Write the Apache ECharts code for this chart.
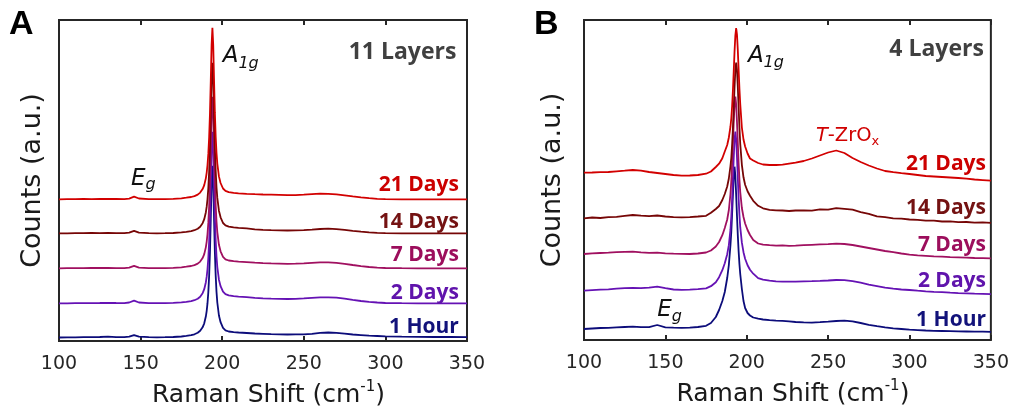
<!DOCTYPE html>
<html>
<head>
<meta charset="utf-8">
<script src="https://cdn.jsdelivr.net/npm/echarts@6/dist/echarts.min.js"></script>
<style>
  html, body { margin: 0; padding: 0; background: #ffffff; }
  #chart { width: 1012px; height: 413px; }
</style>
</head>
<body>
<div id="chart"></div>
<script>
// ---- Raman spectra of ZrS2-type flakes after ageing (counts in a.u.) ----
const ageLabels = ['1 Hour', '2 Days', '7 Days', '14 Days', '21 Days'];
const panelTitles = ['11 Layers', '4 Layers'];
const xTickValues = [100, 150, 200, 250, 300, 350];

// Raman shift sampling (cm-1), panel A (11 layers)
const xA = [100,105,110,115,120,125,130,135,140,
  143,146,149,
  155,160,165,170,175,
  178,181,183,185,186.5,188,189,190,
  190.5,191,191.5,192,192.5,193,193.5,194,194.5,195,195.5,196,196.5,197,
  198,199,200.5,202,204,207,210,
  215,220,225,230,235,240,245,250,255,260,265,270,275,280,285,290,295,300,
  310,320,330,340,350];

// Panel A intensities (before vertical stacking)
const aHour1 = [0,0.1,0.2,0.3,0.4,0.5,0.9,0.4,0.3,
  0.8,2.4,0.8,
  0.3,0.2,0.3,0.5,1.0,
  1.6,2.3,3.2,4.7,6.7,10.2,14.2,21.2,
  26.7,34.3,45.4,61.7,85.6,118.5,154.1,171.8,154.2,118.8,85.9,62.2,45.9,35,
  22,15.3,9.6,7.2,6.0,5.4,5.0,
  4.5,4.0,3.7,3.4,3.2,3.0,3.1,3.2,3.6,4.6,5.0,4.6,3.8,3.0,2.4,1.8,1.5,1.2,
  0.8,0.6,0.5,0.5,0.4];
const aDay2 = [0,0,0.1,0.2,0.2,0.3,0.5,0.3,0.2,
  0.8,2.6,0.8,
  0.2,0.1,0.2,0.4,0.9,
  1.5,2.2,3.1,4.6,6.6,10.1,14.1,21.1,
  26.6,34.2,45.3,61.6,85.5,118.4,153.9,171.6,154.4,119.3,86.7,63.1,47.1,36.3,
  23.6,17.1,11.6,9.1,7.9,7.2,6.7,
  6.1,5.5,5.0,4.7,4.5,4.3,4.5,4.9,5.4,5.9,6.0,5.6,4.6,3.4,2.3,1.4,0.8,0.3,
  0.1,0,0,0,0];
const aDay7 = [0,0.1,0.1,0.2,0.3,0.3,0.4,0.2,0.2,
  0.7,2.5,0.7,
  0.2,0.1,0.2,0.5,1.0,
  1.6,2.3,3.2,4.7,6.7,10.2,14.2,21.2,
  26.7,34.3,45.4,61.7,85.6,118.5,154,171.6,154.4,119.2,86.6,63,47,36.2,
  23.5,17,11.5,9,7.8,7.1,6.6,
  6.1,5.6,5.2,4.9,4.7,4.5,4.6,4.9,5.4,5.9,6.0,5.5,4.5,3.3,2.2,1.3,0.7,0.3,
  0.1,0,0,0,0];
const aDay14 = [0,0,0.1,0.2,0.3,0.2,0.3,0.2,0.1,
  0.6,2.4,0.6,
  0.1,0,0.1,0.3,0.9,
  1.5,2.2,3.1,4.6,6.6,10.1,14.1,21.1,
  26.6,34.2,45.2,61.4,85.2,118,153.4,170.6,153.6,118.6,86,62.4,46.3,35.4,
  22.6,16,10.3,7.9,6.6,5.9,5.5,
  5.0,4.0,3.5,3.2,3.0,2.8,2.9,3.2,3.7,4.3,4.6,4.2,3.4,2.5,1.7,1.0,0.5,0.2,
  0,0,0,0,0];
const aDay21 = [0,0.1,0.2,0.3,0.2,0.3,0.4,0.3,0.2,
  0.7,2.6,0.8,
  0.2,0.1,0.2,0.4,1.0,
  1.6,2.3,3.2,4.7,6.7,10.2,14.2,21.2,
  26.7,34.3,45.4,61.7,85.6,118.5,154,171.5,154.3,119.1,86.4,62.7,46.6,35.7,
  22.9,16.3,10.8,8.4,7.2,6.4,6.0,
  5.5,5.1,4.8,4.6,4.4,4.1,4.2,4.6,5.1,5.6,5.5,5.0,4.0,2.9,1.9,1.1,0.5,0.1,
  0,0,0,0,0];
// vertical stacking offsets, panel A (1 Hour ... 21 Days)
const offsetsA = [3.5, 37.7, 72.7, 107.7, 141.7];

// Raman shift sampling (cm-1), panel B (4 layers)
const xB = [100,105,110,115,120,125,130,135,140,145,150,155,160,165,170,175,
  178,181,183,185,186.5,188,189,190,
  190.5,191,191.5,192,192.5,193,193.5,194,194.5,195,195.5,196,
  197,198,199,200.5,202,204,207,210,
  214,218,222,226,230,
  235,240,245,250,255,260,265,270,275,280,285,290,295,300,305,310,315,320,325,330,335,340,345,350];

const bHour1 = [0,0.5,1,1.2,1.6,2,2.3,1.8,1.8,4,1.6,1.3,1.2,1.3,2,3.2,
  6,12,19,28,37,51,64,84,
  97,115,134,152,162.3,153,134,113,94,78,65,55,
  40,28,21,16,13.5,11.5,10.3,9.5,
  8.8,8.4,8.2,7.6,7,
  6.6,6.4,6.8,7.3,8,8.3,7.6,6,4.2,2.8,1.6,0.7,0,-0.7,-1.1,-1.5,-1.8,-2,-2.2,-2.4,-2.5,-2.6,-2.7,-2.8];
const bDay2 = [0,0.5,1,1.4,2,2.6,2.8,2.5,3,4,2.5,1.2,0.8,1,1.6,2.4,
  4.5,8.5,13.5,20.5,27.5,36.5,45.5,61,
  74,91,112,133,151,159,151,133.5,113,92.5,76,63.5,
  48,38.5,32,25.5,21,17,12.5,11,
  10,9.3,9,9,9,
  9.3,9.5,9.8,10.2,10.7,10.5,9.5,8,6,4.5,3,2,1.2,0.7,0,-0.6,-1.1,-1.5,-2,-2.4,-2.7,-3,-3.2,-3.4];
const bDay7 = [0,0.6,1,1.3,1.8,2.2,2.3,1.6,1.2,1.4,0.7,0.3,0.2,0,0.5,1.5,
  3.5,7.5,12,18.8,26,34.5,44,60,
  73,90,111,132,149.5,157.3,149.5,132,111.5,91,74.5,62,
  46,37,30.5,24,19,14,10.5,9.3,
  8.8,8.4,8.6,8.2,8.3,
  8.8,9.2,9.6,9.8,10.3,10,9,7.5,6,4.5,3,1.8,0.5,-0.6,-1.3,-1.8,-2.3,-2.7,-3.1,-3.4,-3.7,-4,-4.2,-4.4];
const bDay14 = [0,0.8,0.3,1.2,1.5,2.5,3.3,2.6,2.2,2.8,1.8,1.2,1.0,1.2,1.8,2.5,
  5.5,9.3,12.3,18.3,24.3,31.8,39.8,52.3,
  60.3,73.3,90.3,110.3,131.3,148.3,155.6,148.5,131.5,111,91,74.5,
  53.5,41,33.5,27,22.5,17.5,12.5,10,
  8.5,8,7.8,7.3,7.8,
  7.9,7.6,8.9,8.7,10.2,9.4,8.6,6.2,4.5,2.0,1.1,0.0,-0.3,-1.2,-1.5,-2.4,-2.4,-3.2,-3.0,-3.8,-3.7,-4.3,-4.1,-4.6];
const bDay21 = [-0.2,0,0.3,0.5,1.2,1.8,2.5,1.8,0.5,-0.5,-1.5,-2.5,-3.2,-3,-2.5,-1.2,
  1,5.5,8.8,14.2,21,27.5,35,46,
  54,66,82,101,121,137,144.5,138,122.5,103,84,68.5,
  45,33,26,19,14,12,9.5,8,
  7.5,7.5,7.8,8.8,9.8,
  11.5,14,17,20,22,19.5,14.5,10.5,7,4,1.5,0.3,-0.7,-1.5,-2.5,-3.5,-4,-4.5,-5,-5.5,-6.2,-7,-7.6,-8.2];
// vertical stacking offsets, panel B (1 Hour ... 21 Days)
const offsetsB = [11, 49.3, 86, 121.7, 167.5];

// ---- styling ----
const lineColors = ['#0c0c7a', '#6512b4', '#a01060', '#760606', '#d20000'];
const textColors = ['#12127a', '#6014ac', '#9c0e5c', '#741212', '#cc0000'];
const axisColor = '#262626';
const FONT = 'DejaVu Sans';

const spectraA = [aHour1, aDay2, aDay7, aDay14, aDay21];
const spectraB = [bHour1, bDay2, bDay7, bDay14, bDay21];

function stacked(xs, ys, off) {
  return xs.map((x, i) => [x, ys[i] + off]);
}

function xAxes(gridIndex) {
  const base = {
    gridIndex, type: 'value', min: 100, max: 350, interval: 50,
    axisLine: { show: false }, splitLine: { show: false },
    axisTick: { show: true, inside: true, length: 5, lineStyle: { color: axisColor, width: 2 } }
  };
  return [
    Object.assign({}, base, {
      position: 'bottom',
      axisLabel: { show: true, margin: 14, fontSize: 19, fontFamily: FONT, color: axisColor },
      name: '{a|Raman Shift (cm}{s|-1}{a|)}',
      nameLocation: 'middle', nameGap: 39,
      nameTextStyle: {
        padding: [0, 0, 0, 11],
        rich: {
          a: { fontSize: 25, lineHeight: 30, fontFamily: FONT, color: '#1a1a1a' },
          s: { fontSize: 15, lineHeight: 15, verticalAlign: 'top', fontFamily: FONT, color: '#1a1a1a' }
        }
      }
    }),
    Object.assign({}, base, { position: 'top', axisLabel: { show: false } })
  ];
}

function yAxis(gridIndex, max, gap) {
  return {
    gridIndex, type: 'value', min: 0, max,
    axisLine: { show: false }, axisTick: { show: false },
    axisLabel: { show: false }, splitLine: { show: false },
    name: 'Counts (a.u.)', nameLocation: 'middle', nameRotate: 90, nameGap: gap,
    nameTextStyle: { fontSize: 27, fontFamily: FONT, color: '#1a1a1a' }
  };
}

const series = [];
spectraA.forEach((ys, i) => series.push({
  type: 'line', xAxisIndex: 0, yAxisIndex: 0, name: ageLabels[i] + ' A',
  data: stacked(xA, ys, offsetsA[i]), showSymbol: false, symbol: 'none',
  lineStyle: { color: lineColors[i], width: 1.8 }, z: 2 + i, silent: true
}));
spectraB.forEach((ys, i) => series.push({
  type: 'line', xAxisIndex: 2, yAxisIndex: 1, name: ageLabels[i] + ' B',
  data: stacked(xB, ys, offsetsB[i]), showSymbol: false, symbol: 'none',
  lineStyle: { color: lineColors[i], width: 1.8 }, z: 2 + i, silent: true
}));

const chart = echarts.init(document.getElementById('chart'));
chart.setOption({
  animation: false,
  backgroundColor: '#ffffff',
  grid: [
    { left: 59, top: 20, width: 408, height: 321, show: true, borderColor: axisColor, borderWidth: 2, backgroundColor: 'transparent' },
    { left: 584, top: 20, width: 407, height: 320, show: true, borderColor: axisColor, borderWidth: 2, backgroundColor: 'transparent' }
  ],
  xAxis: xAxes(0).concat(xAxes(1)),
  yAxis: [yAxis(0, 321, 13), yAxis(1, 320, 18)],
  series
});

// ---- annotations ----
function toPx(panel, x, y) {
  return chart.convertToPixel({ xAxisIndex: panel === 0 ? 0 : 2, yAxisIndex: panel }, [x, y]);
}
// plain text placed by its baseline
function baselineText(str, x, baseline, size, family, weight, color, align, style) {
  return {
    type: 'text', x, y: baseline - 0.3 * size, z: 50, silent: true,
    style: {
      text: str, fill: color, align, verticalAlign: 'middle',
      font: (style || 'normal') + ' ' + (weight || 'normal') + ' ' + size + 'px "' + family + '"'
    }
  };
}
// main glyph with a lowered subscript, placed by the main baseline
function subText(main, sub, x, baseline, size, subSize, lineH, color) {
  return {
    type: 'text', x, y: baseline - (lineH / 2 + 0.3 * size), z: 50, silent: true,
    style: {
      text: '{m|' + main + '}{s|' + sub + '}', align: 'left', verticalAlign: 'top',
      rich: {
        m: { fontSize: size, lineHeight: lineH, fontStyle: 'italic', fontFamily: FONT, fill: color },
        s: { fontSize: subSize, lineHeight: subSize, fontStyle: 'italic', verticalAlign: 'bottom', fontFamily: FONT, fill: color }
      }
    }
  };
}

const graphics = [];
// panel letters
graphics.push(baselineText('A', 9, 35, 34, 'Liberation Sans', 'bold', '#000000', 'left'));
graphics.push(baselineText('B', 534, 35, 34, 'Liberation Sans', 'bold', '#000000', 'left'));

// layer counts
let p = toPx(0, 343.5, 281.7);
graphics.push(baselineText(panelTitles[0], p[0], p[1], 23, 'Open Sans', 'bold', '#404040', 'right'));
p = toPx(1, 345.7, 283.3);
graphics.push(baselineText(panelTitles[1], p[0], p[1], 23, 'Open Sans', 'bold', '#404040', 'right'));

// age labels next to each trace
const liftA = [4.2, 4.0, 6.6, 5.0, 7.6];
const liftB = [2.3, 3.4, 2.3, 4.0, 2.5];
ageLabels.forEach((lab, i) => {
  let q = toPx(0, 345, offsetsA[i] + liftA[i]);
  graphics.push(baselineText(lab, q[0], q[1], 21, 'Open Sans', 'bold', textColors[i], 'right'));
  q = toPx(1, 347, offsetsB[i] + liftB[i]);
  graphics.push(baselineText(lab, q[0], q[1], 21, 'Open Sans', 'bold', textColors[i], 'right'));
});

// phonon modes
p = toPx(0, 200.3, 277.7);
graphics.push(subText('A', '1g', p[0], p[1], 23, 16, 30, '#111111'));
p = toPx(1, 200.7, 277.3);
graphics.push(subText('A', '1g', p[0], p[1], 23, 16, 30, '#111111'));
p = toPx(0, 144.1, 155.5);
graphics.push(subText('E', 'g', p[0], p[1], 23, 16, 29, '#111111'));
p = toPx(1, 145, 22.7);
graphics.push(subText('E', 'g', p[0], p[1], 23, 16, 29, '#111111'));

// oxide band on the 21-day trace
p = toPx(1, 242.5, 198.3);
graphics.push({
  type: 'text', x: p[0], y: p[1] - (12.5 + 0.3 * 19.5), z: 50, silent: true,
  style: {
    text: '{i|T}{n|-ZrO}{s|x}', align: 'left', verticalAlign: 'top',
    rich: {
      i: { fontSize: 19.5, lineHeight: 25, fontStyle: 'italic', fontFamily: FONT, fill: '#d00000' },
      n: { fontSize: 19.5, lineHeight: 25, fontFamily: FONT, fill: '#d00000' },
      s: { fontSize: 13, lineHeight: 13, verticalAlign: 'bottom', fontFamily: FONT, fill: '#d00000' }
    }
  }
});

chart.setOption({ graphic: graphics });
</script>
</body>
</html>
